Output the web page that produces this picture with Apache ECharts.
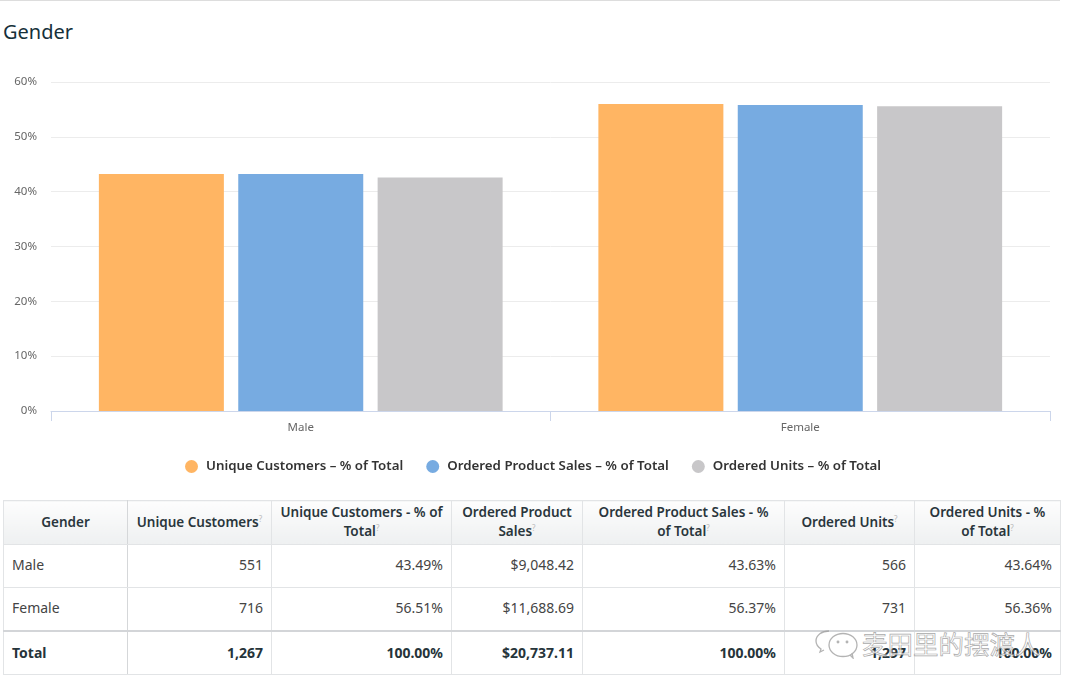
<!DOCTYPE html>
<html>
<head>
<meta charset="utf-8">
<title>Gender</title>
<script src="https://cdn.jsdelivr.net/npm/echarts@6/dist/echarts.min.js"></script>
<style>
    html, body { margin: 0; padding: 0; background: #fff; }
    #page { position: relative; width: 1080px; height: 688px; overflow: hidden; font-family: "Noto Sans", sans-serif; }
    #topline { position: absolute; left: 0; top: 0; width: 1060px; height: 1px; background: #ddd; }
    #title { position: absolute; left: 3px; top: 17px; font-size: 20px; line-height: 30px; color: #16303a; }
    #chart { position: absolute; left: 0; top: 0; width: 1080px; height: 490px; }
    #tbl { position: absolute; left: 3px; top: 500px; width: 1057px; border-collapse: collapse; table-layout: fixed; font-size: 14px; color: #444; }
    #tbl th, #tbl td { border: 1px solid #e2e4e6; box-sizing: border-box; }
    #tbl th { height: 44px; padding: 0 4px 1px; line-height: 19px; font-size: 13.5px; font-weight: 600; color: #2a363c; background: linear-gradient(#fdfdfd, #eef0f1); text-align: center; }
    #tbl th:nth-child(5), #tbl th:nth-child(7) { padding-left: 14px; padding-right: 14px; }
    #tbl th:first-child, #tbl td:first-child { border-right-color: #d5d7d9; }
    #tbl th sup { font-size: 8px; font-weight: 400; color: #bbb; line-height: 0; }
    #tbl td { height: 43px; padding: 0 8px 3px 8px; text-align: right; }
    #tbl td:first-child { text-align: left; }
    #tbl tr.total td { height: 44px; padding-bottom: 1px; font-weight: 700; color: #26343a; border-top: 2px solid #d3d5d8; }
    #mark { position: absolute; left: 812px; top: 626px; width: 232px; height: 34px; opacity: .75; }
    #mark svg { position: absolute; left: 3px; top: 3px; }
    #mark span { position: absolute; left: 50px; top: 0; font-size: 25.5px; line-height: 34px; white-space: nowrap; color: #fff; font-family: "Noto Sans CJK SC"; -webkit-text-stroke: .7px #8d8d8d; }
</style>
</head>
<body>
<div id="page">
    <div id="topline"></div>
    <div id="title">Gender</div>
    <div id="chart"></div>
    <table id="tbl"></table>
    <div id="mark">
        <svg width="44" height="30" viewBox="0 0 44 30" fill="none" stroke="#9a9a9a" stroke-width="1.3">
            <path d="M14 2C7 2 1 6 1 12c0 3 2 6 5 8l-1 3 4-2"/>
            <ellipse cx="28" cy="16" rx="14" ry="11.5" fill="#fff" fill-opacity=".65"/>
            <path d="M35 26l3 3-1-5"/>
            <circle cx="23" cy="13" r=".8"/><circle cx="32" cy="13" r=".8"/>
        </svg>
        <span>麦田里的摆渡人</span>
    </div>
</div>
<script>
// 图表数据
var categories = ['Male', 'Female'];
var seriesNames = ['Unique Customers – % of Total', 'Ordered Product Sales – % of Total', 'Ordered Units – % of Total'];
var uniqueCustomersPct = [43.2, 56.0];
var orderedSalesPct = [43.2, 55.8];
var orderedUnitsPct = [42.6, 55.6];
var yTicks = [0, 10, 20, 30, 40, 50, 60];

// 表格数据
var tableHead = ['Gender', 'Unique Customers', 'Unique Customers - % of Total', 'Ordered Product Sales', 'Ordered Product Sales - % of Total', 'Ordered Units', 'Ordered Units - % of Total'];
var colWidths = [124, 144, 180, 131, 202, 130, 146];
var rowMale = ['Male', '551', '43.49%', '$9,048.42', '43.63%', '566', '43.64%'];
var rowFemale = ['Female', '716', '56.51%', '$11,688.69', '56.37%', '731', '56.36%'];
var rowTotal = ['Total', '1,267', '100.00%', '$20,737.11', '100.00%', '1,297', '100.00%'];

// 柱状图模块
(function() {
    var myChart = echarts.init(document.querySelector('#chart'));
    var colors = ['#FFB563', '#77ABE1', '#C8C7C9'];
    var values = [uniqueCustomersPct, orderedSalesPct, orderedUnitsPct];
    var option = {
        animation: false,
        textStyle: { fontFamily: '"Noto Sans", sans-serif' },
        grid: { left: 51, right: 30, top: 82, height: 329 },
        legend: {
            top: 455,
            left: 180,
            itemGap: 23,
            itemWidth: 13,
            itemHeight: 13,
            icon: 'circle',
            data: seriesNames,
            textStyle: { color: '#333', fontSize: 13.3, fontWeight: 600, padding: [0, 0, 0, 3] }
        },
        xAxis: {
            type: 'category',
            data: categories,
            axisLine: { lineStyle: { color: '#ccd6eb' } },
            axisTick: { show: true, length: 10, lineStyle: { color: '#ccd6eb' } },
            axisLabel: { color: '#666', fontSize: 11.5, margin: 11 }
        },
        yAxis: {
            type: 'value',
            min: yTicks[0],
            max: yTicks[yTicks.length - 1],
            interval: 10,
            axisLine: { show: false },
            axisTick: { show: false },
            axisLabel: { color: '#666', fontSize: 11.5, margin: 14, formatter: '{value}%' },
            splitLine: { lineStyle: { color: '#ececec' } }
        },
        series: seriesNames.map(function(name, i) {
            return {
                name: name,
                type: 'bar',
                barWidth: 125,
                barGap: '11.5%',
                itemStyle: { color: colors[i] },
                data: values[i]
            };
        })
    };
    myChart.setOption(option);
})();

// 表格模块
(function() {
    var html = '<colgroup>' + colWidths.map(function(w) { return '<col style="width:' + w + 'px">'; }).join('') + '</colgroup>';
    html += '<tr>' + tableHead.map(function(t, i) {
        return '<th>' + t + (i > 0 ? '<sup>?</sup>' : '') + '</th>';
    }).join('') + '</tr>';
    [rowMale, rowFemale, rowTotal].forEach(function(row, r) {
        html += '<tr' + (r === 2 ? ' class="total"' : '') + '>' + row.map(function(t) { return '<td>' + t + '</td>'; }).join('') + '</tr>';
    });
    document.querySelector('#tbl').innerHTML = html;
})();
</script>
</body>
</html>
